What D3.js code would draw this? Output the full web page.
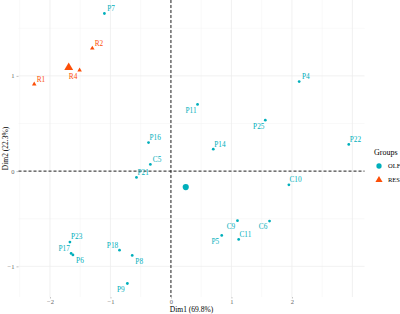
<!DOCTYPE html>
<html>
<head>
<meta charset="utf-8">
<script src="https://cdn.jsdelivr.net/npm/d3@7"></script>
<style>
  body { margin: 0; background: #fff; }
  svg text { font-family: "Liberation Serif", "DejaVu Serif", serif; }
</style>
</head>
<body>
<svg id="chart"></svg>
<script>
// PCA individuals, coloured by group

const names  = ["P7", "R2", "R4", "R1", "P11", "P16", "C5", "P21", "P23", "P17", "P6", "P18", "P8", "P9", "P4", "P25", "P14", "P22", "C10", "C9", "C6", "P5", "C11"];
const groups = ["OLF", "RES", "RES", "RES", "OLF", "OLF", "OLF", "OLF", "OLF", "OLF", "OLF", "OLF", "OLF", "OLF", "OLF", "OLF", "OLF", "OLF", "OLF", "OLF", "OLF", "OLF", "OLF"];
const dim1   = [-1.10, -1.30, -1.51, -2.26, 0.44, -0.37, -0.34, -0.57, -1.67, -1.65, -1.62, -0.85, -0.64, -0.72, 2.12, 1.56, 0.70, 2.94, 1.95, 1.10, 1.63, 0.84, 1.12];
const dim2   = [1.655, 1.29, 1.06, 0.913, 0.70, 0.30, 0.07, -0.066, -0.745, -0.864, -0.88, -0.83, -0.885, -1.18, 0.94, 0.535, 0.23, 0.28, -0.144, -0.52, -0.525, -0.675, -0.717];

// group centroids
const centroidGroups = ["OLF", "RES"];
const centroidDim1 = [0.245, -1.69];
const centroidDim2 = [-0.168, 1.088];

const groupNames = ["OLF", "RES"];
const groupColors = ["#00AFBB", "#FC4E07"];
const xTicks = [-2, -1, 0, 1, 2];
const yTicks = [-1, 0, 1];

// label placement (like ggrepel) - direction from the point
const nudge = {
  P7: "ne", R2: "ne", R4: "sw", R1: "ne", P11: "sw", P16: "ne", C5: "ne", P21: "ne",
  P23: "ne", P17: "nw", P6: "se", P18: "nw", P8: "se", P9: "sw", P4: "ne", P25: "sw",
  P14: "ne", P22: "ne", C10: "ne", C9: "sw", C6: "sw", P5: "sw", C11: "ne"
};

const W = 400, H = 314;
const panel = { left: 18.5, right: 364.5, top: 0, bottom: 297 };

const svg = d3.select("#chart").attr("width", W).attr("height", H);

const points = names.map((n, i) => ({ name: n, group: groups[i], x: dim1[i], y: dim2[i] }));
const centroids = centroidGroups.map((g, i) => ({ group: g, x: centroidDim1[i], y: centroidDim2[i] }));

// ggplot style 5% expansion
function expand(ext) {
  const pad = (ext[1] - ext[0]) * 0.05;
  return [ext[0] - pad, ext[1] + pad];
}

const xScale = d3.scaleLinear()
  .domain(expand(d3.extent(points, d => d.x)))
  .range([panel.left, panel.right]);

const yScale = d3.scaleLinear()
  .domain(expand(d3.extent(points, d => d.y)))
  .range([panel.bottom, panel.top]);

const color = d3.scaleOrdinal().domain(groupNames).range(groupColors);
const shape = d3.scaleOrdinal().domain(groupNames).range([d3.symbolCircle, d3.symbolTriangle]);

// grid (major + minor)
const grid = svg.append("g");
const xMinor = d3.range(-2.5, 3.5, 1);
const yMinor = [-0.5, 0.5, 1.5];
grid.selectAll(".xminor").data(xMinor).enter().append("line")
  .attr("x1", d => xScale(d)).attr("x2", d => xScale(d))
  .attr("y1", panel.top).attr("y2", panel.bottom)
  .attr("stroke", "#f3f3f3").attr("stroke-width", 0.5);
grid.selectAll(".yminor").data(yMinor).enter().append("line")
  .attr("x1", panel.left).attr("x2", panel.right)
  .attr("y1", d => yScale(d)).attr("y2", d => yScale(d))
  .attr("stroke", "#f3f3f3").attr("stroke-width", 0.5);
grid.selectAll(".xmajor").data(xTicks.concat([3])).enter().append("line")
  .attr("x1", d => xScale(d)).attr("x2", d => xScale(d))
  .attr("y1", panel.top).attr("y2", panel.bottom)
  .attr("stroke", "#ebebeb").attr("stroke-width", 0.7);
grid.selectAll(".ymajor").data(yTicks).enter().append("line")
  .attr("x1", panel.left).attr("x2", panel.right)
  .attr("y1", d => yScale(d)).attr("y2", d => yScale(d))
  .attr("stroke", "#ebebeb").attr("stroke-width", 0.7);

// axes
const xAxis = svg.append("g")
  .attr("transform", `translate(0,${panel.bottom})`)
  .call(d3.axisBottom(xScale).tickValues(xTicks).tickSize(1.5).tickPadding(1).tickFormat(d3.format("d")));
const yAxis = svg.append("g")
  .attr("transform", `translate(${panel.left},0)`)
  .call(d3.axisLeft(yScale).tickValues(yTicks).tickSize(2).tickPadding(2).tickFormat(d3.format("d")));
[xAxis, yAxis].forEach(a => {
  a.select(".domain").remove();
  a.selectAll(".tick line").attr("stroke", "#999").attr("stroke-width", 0.6);
  a.selectAll(".tick text").attr("fill", "#666").style("font-size", "6.5px")
    .style("font-family", "Liberation Serif");
});

// zero reference lines
svg.append("line")
  .attr("x1", xScale(0)).attr("x2", xScale(0))
  .attr("y1", panel.top).attr("y2", panel.bottom)
  .attr("stroke", "#222").attr("stroke-width", 1).attr("stroke-dasharray", "3,2");
svg.append("line")
  .attr("x1", panel.left).attr("x2", panel.right)
  .attr("y1", yScale(0)).attr("y2", yScale(0))
  .attr("stroke", "#222").attr("stroke-width", 1).attr("stroke-dasharray", "3,2");

// individual points
svg.selectAll(".pt").data(points).enter().append("path")
  .attr("d", d => d3.symbol().type(shape(d.group)).size(d.group === "RES" ? 9 : 6)())
  .attr("transform", d => `translate(${xScale(d.x)},${yScale(d.y)})`)
  .attr("fill", d => color(d.group));

// labels
const off = { ne: [6.7, -5.2], nw: [-7, -5.2], se: [7, 5.7], sw: [-6.5, 5.8] };
svg.selectAll(".lbl").data(points).enter().append("text")
  .attr("x", d => xScale(d.x) + off[nudge[d.name]][0])
  .attr("y", d => yScale(d.y) + off[nudge[d.name]][1])
  .attr("text-anchor", "middle")
  .attr("dy", "0.35em")
  .style("font-size", "7.3px")
  .attr("fill", d => color(d.group))
  .text(d => d.name);

// centroids
svg.selectAll(".ctr").data(centroids).enter().append("path")
  .attr("d", d => d3.symbol().type(shape(d.group)).size(d.group === "RES" ? 34 : 30)())
  .attr("transform", d => `translate(${xScale(d.x)},${yScale(d.y)})`)
  .attr("fill", d => color(d.group));

// axis titles
svg.append("text")
  .attr("x", (panel.left + panel.right) / 2).attr("y", 312)
  .attr("text-anchor", "middle")
  .style("font-size", "7.5px")
  .text("Dim1 (69.8%)");
svg.append("text")
  .attr("transform", `translate(8,${(panel.top + panel.bottom) / 2}) rotate(-90)`)
  .attr("text-anchor", "middle")
  .style("font-size", "7.5px")
  .text("Dim2 (22.3%)");

// legend
const legend = svg.append("g").attr("transform", "translate(374,152)");
legend.append("text").attr("x", 0).attr("y", 3).style("font-size", "8px").text("Groups");
groupNames.forEach((g, i) => {
  const row = legend.append("g").attr("transform", `translate(5,${14 + i * 14})`);
  row.append("path")
    .attr("d", d3.symbol().type(shape(g)).size(22)())
    .attr("fill", color(g));
  row.append("text").attr("x", 9).attr("dy", "0.35em")
    .style("font-size", "6.5px").text(g);
});
</script>
</body>
</html>
